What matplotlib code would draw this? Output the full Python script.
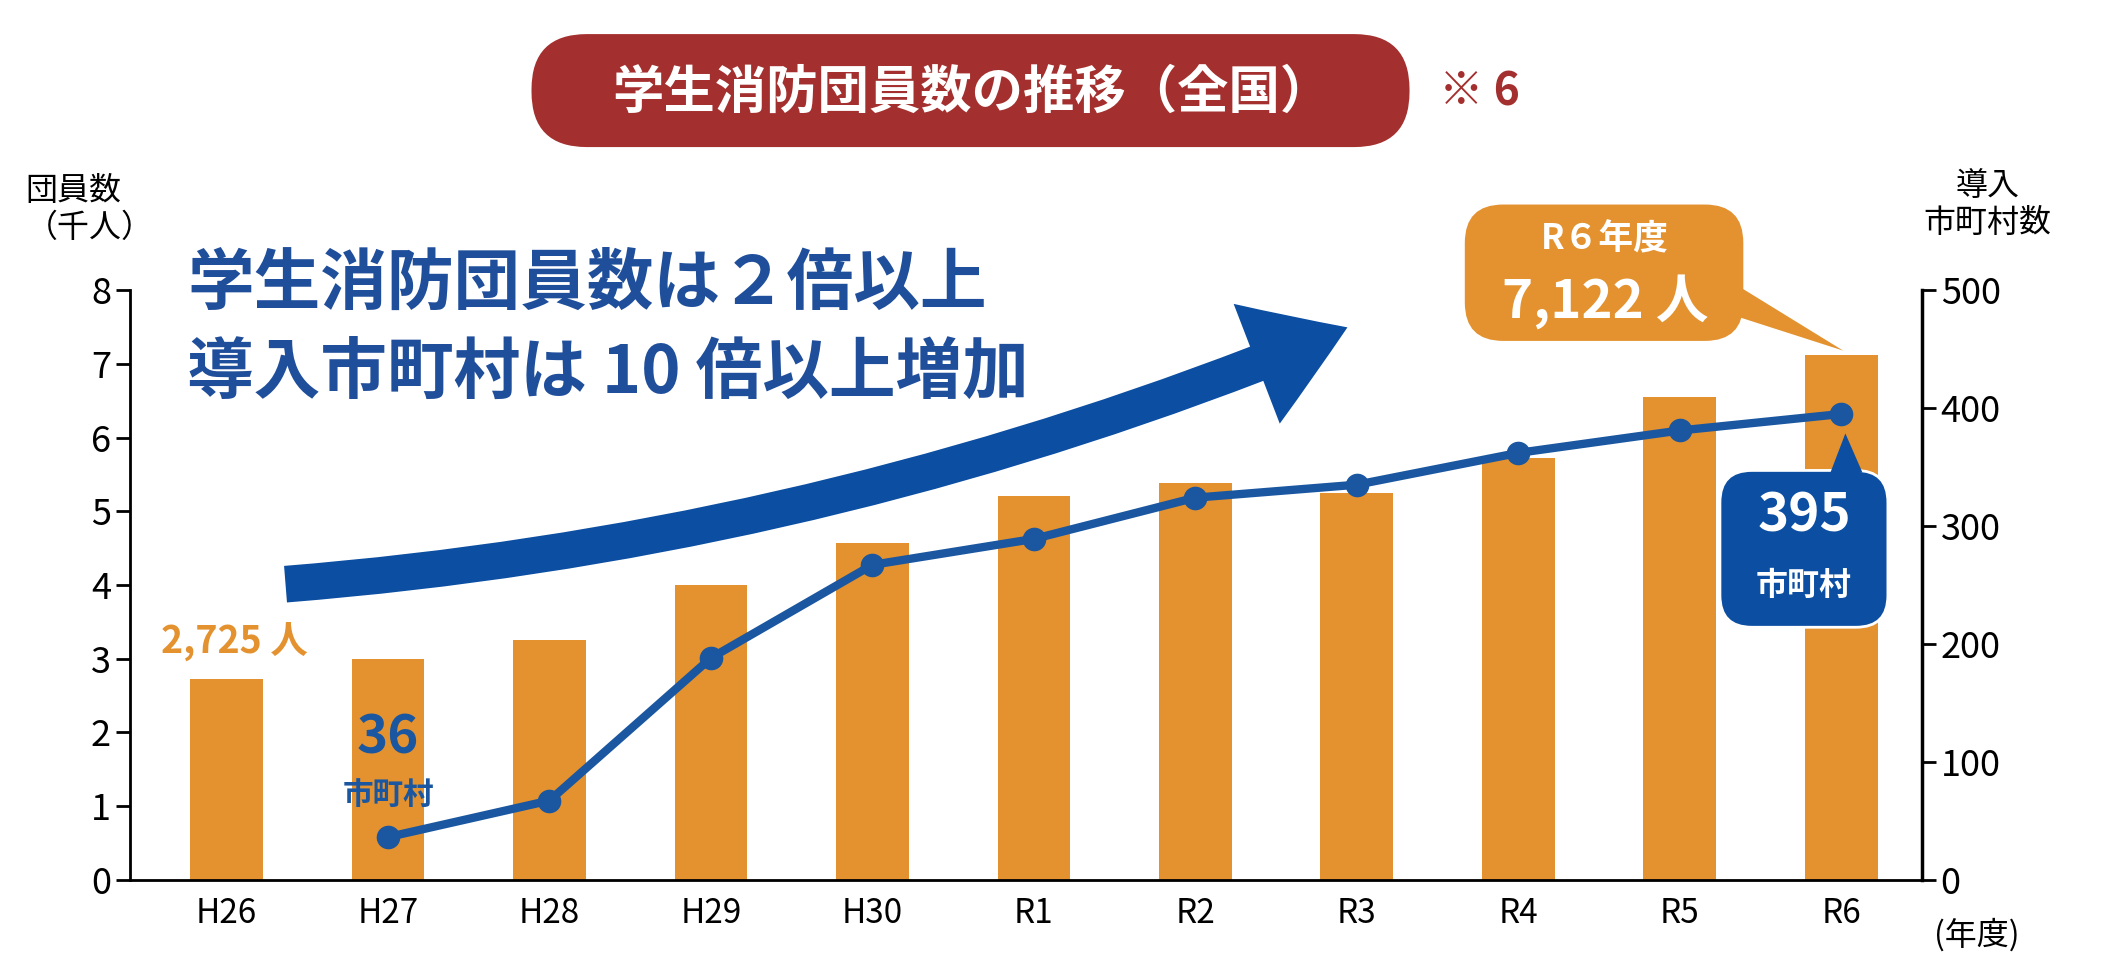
import matplotlib
matplotlib.use("Agg")
import matplotlib.pyplot as plt
from matplotlib.patches import FancyBboxPatch, Polygon, FancyArrowPatch

plt.rcParams["font.family"] = "Noto Sans CJK JP"

years = ["H26", "H27", "H28", "H29", "H30", "R1", "R2", "R3", "R4", "R5", "R6"]
members = [2.725, 3.0, 3.25, 4.0, 4.57, 5.2, 5.38, 5.25, 5.72, 6.55, 7.122]
line_years = ["H27", "H28", "H29", "H30", "R1", "R2", "R3", "R4", "R5", "R6"]
munis = [36, 67, 188, 267, 289, 324, 335, 362, 381, 395]

ORANGE = "#E3922F"
BLUE = "#1A57A0"
RED = "#A3302E"
ASP = 2126 / 974

fig = plt.figure(figsize=(21.26, 9.74), dpi=100)
ax = fig.add_axes([0.061, 0.097, 0.843, 0.605])
ax2 = ax.twinx()

x = list(range(len(years)))
ax.bar(x, members, width=0.45, color=ORANGE, zorder=2)
ax.set_ylim(0, 8)
ax.set_xlim(-0.6, 10.5)
ax.set_xticks(x)
ax.set_xticklabels(years, fontsize=24)
ax.set_yticks(range(9))
ax.tick_params(axis="y", labelsize=26, length=10, width=2)
ax.tick_params(axis="x", length=0, pad=12)
for s in ["top"]:
    ax.spines[s].set_visible(False)
    ax2.spines[s].set_visible(False)
ax.spines["left"].set_linewidth(2)
ax.spines["bottom"].set_linewidth(2)
ax2.spines["right"].set_linewidth(2.5)
ax2.spines["left"].set_visible(False)

lx = [years.index(y) for y in line_years]
ax2.plot(lx, munis, color=BLUE, lw=6, marker="o", ms=16, zorder=5)
ax2.set_ylim(0, 500)
ax2.set_yticks(range(0, 501, 100))
ax2.tick_params(axis="y", labelsize=26, length=10, width=2)

# axis titles
fig.text(0.012, 0.785, "団員数\n（千人）", fontsize=23, ha="left", va="center", linespacing=1.2)
fig.text(0.935, 0.79, "導入\n市町村数", fontsize=23, ha="center", va="center", linespacing=1.2)
fig.text(0.93, 0.04, "(年度)", fontsize=23, ha="center", va="center")

# title box
tb = FancyBboxPatch((0.25, 0.849), 0.413, 0.116, boxstyle="round,pad=0,rounding_size=0.026",
                    transform=fig.transFigure, fc=RED, ec="none", mutation_aspect=ASP)
fig.patches.append(tb)
fig.text(0.457, 0.905, "学生消防団員数の推移（全国）", color="white", fontsize=37,
         fontweight="bold", ha="center", va="center")
fig.text(0.677, 0.905, "※ 6", color=RED, fontsize=32, fontweight="bold", ha="left", va="center")

# headline
fig.text(0.088, 0.708, "学生消防団員数は２倍以上", color="#1F4E9A", fontsize=48, fontweight="bold", va="center")
fig.text(0.088, 0.617, "導入市町村は 10 倍以上増加", color="#1F4E9A", fontsize=48, fontweight="bold", va="center")

# arrow
arr = FancyArrowPatch((0.133, 0.40), (0.635, 0.665), transform=fig.transFigure,
                      connectionstyle="arc3,rad=0.08",
                      arrowstyle="simple,head_width=4.2,head_length=3.2,tail_width=1.2",
                      mutation_scale=22, fc="#0B4EA2", ec="none", zorder=10)
fig.patches.append(arr)

# annotations
ax.text(0.05, 2.95, "2,725 人", color=ORANGE, fontsize=27, fontweight="bold", ha="center", va="bottom")
ax2.text(1.0, 98, "36", color=BLUE, fontsize=38, fontweight="bold", ha="center", va="bottom")
ax2.text(1.0, 58, "市町村", color=BLUE, fontsize=22, fontweight="bold", ha="center", va="bottom")

# R6 callout (orange)
ob = FancyBboxPatch((0.689, 0.65), 0.131, 0.14, boxstyle="round,pad=0,rounding_size=0.018",
                    transform=fig.transFigure, fc=ORANGE, ec="none", mutation_aspect=ASP)
fig.patches.append(ob)
fig.patches.append(Polygon([(0.80, 0.73), (0.81, 0.68), (0.867, 0.64)], closed=True,
                           transform=fig.transFigure, fc=ORANGE, ec="none"))
fig.text(0.755, 0.755, "R６年度", color="white", fontsize=25, fontweight="bold", ha="center", va="center")
fig.text(0.755, 0.69, "7,122 人", color="white", fontsize=38, fontweight="bold", ha="center", va="center")

# 395 callout (blue)
bb = FancyBboxPatch((0.809, 0.356), 0.079, 0.161, boxstyle="round,pad=0,rounding_size=0.015",
                    transform=fig.transFigure, fc="#0B4EA2", ec="white", lw=2, mutation_aspect=ASP)
fig.patches.append(bb)
fig.patches.append(Polygon([(0.861, 0.515), (0.868, 0.555), (0.876, 0.515)], closed=True,
                           transform=fig.transFigure, fc="#0B4EA2", ec="none"))
fig.text(0.8485, 0.47, "395", color="white", fontsize=38, fontweight="bold", ha="center", va="center")
fig.text(0.8485, 0.398, "市町村", color="white", fontsize=23, fontweight="bold", ha="center", va="center")

fig.savefig("out.png", dpi=100)
